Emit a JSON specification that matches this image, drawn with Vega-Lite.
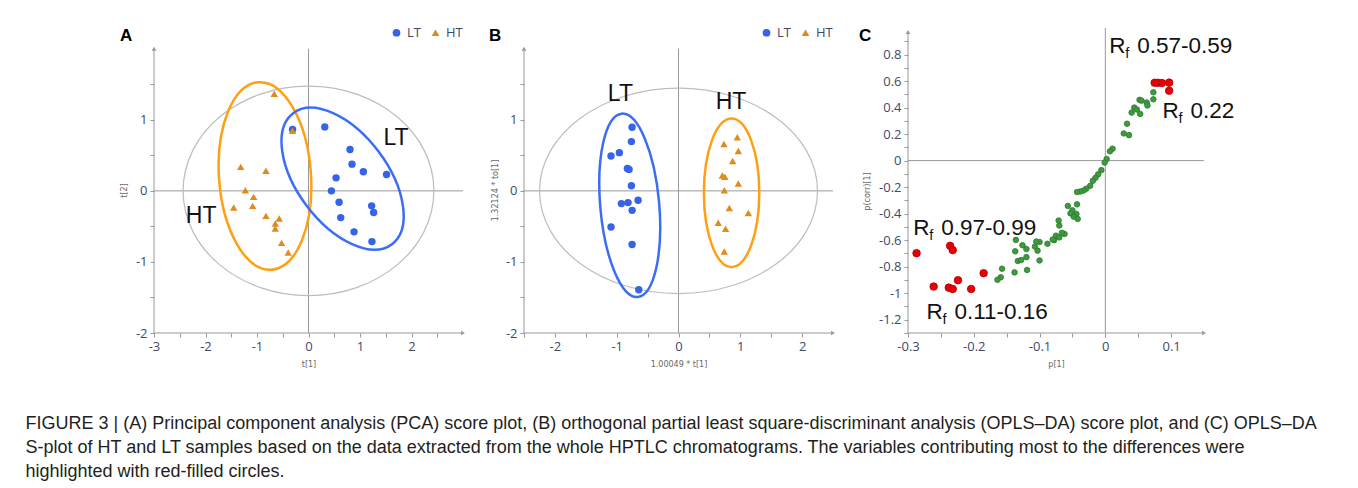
{
"$schema":"https://vega.github.io/schema/vega-lite/v6.json",
"padding":{"left":25,"top":26,"right":3,"bottom":2},
"background":"white",
"config":{"view":{"stroke":null},
 "axis":{"domain":false,"grid":false,"tickSize":4,"tickColor":"#999","labelFont":"Open Sans","labelFontSize":13,"labelColor":"#3e4a66","labelPadding":3,"titleFont":"DejaVu Sans","titleFontSize":8,"titleFontWeight":"normal","titleColor":"#666","labelFlush":false,"labelOverlap":false}},
"title":{"text":["FIGURE 3 | (A) Principal component analysis (PCA) score plot, (B) orthogonal partial least square-discriminant analysis (OPLS–DA) score plot, and (C) OPLS–DA","S-plot of HT and LT samples based on the data extracted from the whole HPTLC chromatograms. The variables contributing most to the differences were","highlighted with red-filled circles."],
   "orient":"bottom","anchor":"start","dx":-94.5,"offset":47,"font":"Liberation Sans","fontSize":18,"fontWeight":"normal","color":"#231f20","lineHeight":24},
"datasets":{
 "A_pts":[
  {"x":-0.31,"y":0.864,"g":"LT"},{"x":0.316,"y":0.90,"g":"LT"},{"x":0.806,"y":0.582,"g":"LT"},{"x":0.845,"y":0.376,"g":"LT"},{"x":1.065,"y":0.268,"g":"LT"},{"x":1.516,"y":0.23,"g":"LT"},{"x":0.535,"y":0.183,"g":"LT"},{"x":0.445,"y":0.0,"g":"LT"},{"x":0.594,"y":-0.16,"g":"LT"},{"x":1.226,"y":-0.211,"g":"LT"},{"x":1.265,"y":-0.305,"g":"LT"},{"x":0.626,"y":-0.376,"g":"LT"},{"x":0.884,"y":-0.577,"g":"LT"},{"x":1.232,"y":-0.714,"g":"LT"},
  {"x":-0.665,"y":1.367,"g":"HT"},{"x":-0.31,"y":0.845,"g":"HT"},{"x":-1.316,"y":0.338,"g":"HT"},{"x":-0.826,"y":0.282,"g":"HT"},{"x":-1.226,"y":0.009,"g":"HT"},{"x":-1.065,"y":-0.085,"g":"HT"},{"x":-1.452,"y":-0.235,"g":"HT"},{"x":-1.084,"y":-0.211,"g":"HT"},{"x":-0.826,"y":-0.352,"g":"HT"},{"x":-0.568,"y":-0.39,"g":"HT"},{"x":-0.645,"y":-0.46,"g":"HT"},{"x":-0.645,"y":-0.53,"g":"HT"},{"x":-0.523,"y":-0.732,"g":"HT"},{"x":-0.394,"y":-0.868,"g":"HT"}],
 "A_lines":[{"x":-3,"y":-2,"x2":3,"y2":-2},{"x":-3,"y":-2,"x2":-3,"y2":2},{"x":0,"y":-2,"x2":0,"y2":2},{"x":-3,"y":0,"x2":3,"y2":0}],
 "A_arrows":[{"x":-3,"y":2,"dir":"up"},{"x":3,"y":-2,"dir":"right"}],
 "A_ell":[{"x":0,"y":0,"e":"grey"},{"x":-0.845,"y":0.21,"e":"HT"},{"x":0.662,"y":0.172,"e":"LT"}],
 "A_text":[{"x":1.70,"y":0.737,"t":"LT"},{"x":-2.084,"y":-0.357,"t":"HT"}],
 "B_pts":[
  {"x":-0.751,"y":0.896,"g":"LT"},{"x":-0.762,"y":0.693,"g":"LT"},{"x":-1.092,"y":0.491,"g":"LT"},{"x":-0.957,"y":0.538,"g":"LT"},{"x":-0.827,"y":0.316,"g":"LT"},{"x":-0.8,"y":0.302,"g":"LT"},{"x":-0.762,"y":0.071,"g":"LT"},{"x":-0.924,"y":-0.179,"g":"LT"},{"x":-0.816,"y":-0.165,"g":"LT"},{"x":-0.654,"y":-0.132,"g":"LT"},{"x":-0.751,"y":-0.274,"g":"LT"},{"x":-1.092,"y":-0.509,"g":"LT"},{"x":-0.751,"y":-0.755,"g":"LT"},{"x":-0.643,"y":-1.392,"g":"LT"},
  {"x":0.951,"y":0.755,"g":"HT"},{"x":0.735,"y":0.66,"g":"HT"},{"x":0.968,"y":0.561,"g":"HT"},{"x":0.876,"y":0.42,"g":"HT"},{"x":0.708,"y":0.217,"g":"HT"},{"x":0.751,"y":0.198,"g":"HT"},{"x":0.968,"y":0.104,"g":"HT"},{"x":0.741,"y":0.009,"g":"HT"},{"x":0.822,"y":-0.241,"g":"HT"},{"x":1.13,"y":-0.311,"g":"HT"},{"x":0.643,"y":-0.448,"g":"HT"},{"x":0.762,"y":-0.533,"g":"HT"},{"x":0.741,"y":-0.854,"g":"HT"}],
 "B_lines":[{"x":-2.5,"y":-2,"x2":2.5,"y2":-2},{"x":-2.5,"y":-2,"x2":-2.5,"y2":2},{"x":0,"y":-2,"x2":0,"y2":2},{"x":-2.5,"y":0,"x2":2.5,"y2":0}],
 "B_arrows":[{"x":-2.5,"y":2,"dir":"up"},{"x":2.5,"y":-2,"dir":"right"}],
 "B_ell":[{"x":0,"y":0,"e":"grey"},{"x":-0.789,"y":-0.203,"e":"LT"},{"x":0.859,"y":-0.028,"e":"HT"}],
 "B_text":[{"x":-0.94,"y":1.368,"t":"LT"},{"x":0.849,"y":1.245,"t":"HT"}],
 "C_green":[
  {"x":0.073,"y":0.515},{"x":0.073,"y":0.462},{"x":0.052,"y":0.458},{"x":0.055,"y":0.452},{"x":0.063,"y":0.438},{"x":0.064,"y":0.415},{"x":0.044,"y":0.400},{"x":0.048,"y":0.385},{"x":0.040,"y":0.362},{"x":0.053,"y":0.352},{"x":0.033,"y":0.278},{"x":0.028,"y":0.205},{"x":0.036,"y":0.192},{"x":0.011,"y":0.090},{"x":0.007,"y":0.070},{"x":0.002,"y":0.012},{"x":-0.001,"y":-0.015},{"x":-0.006,"y":-0.072},{"x":-0.011,"y":-0.104},{"x":-0.015,"y":-0.130},{"x":-0.019,"y":-0.152},{"x":-0.023,"y":-0.190},{"x":-0.029,"y":-0.212},{"x":-0.033,"y":-0.226},{"x":-0.038,"y":-0.233},{"x":-0.043,"y":-0.237},{"x":-0.043,"y":-0.330},{"x":-0.057,"y":-0.342},{"x":-0.050,"y":-0.375},{"x":-0.044,"y":-0.403},{"x":-0.053,"y":-0.398},{"x":-0.048,"y":-0.423},{"x":-0.042,"y":-0.440},{"x":-0.071,"y":-0.452},{"x":-0.070,"y":-0.490},{"x":-0.075,"y":-0.566},{"x":-0.070,"y":-0.579},{"x":-0.062,"y":-0.553},{"x":-0.066,"y":-0.545},{"x":-0.078,"y":-0.600},{"x":-0.080,"y":-0.595},{"x":-0.088,"y":-0.627},{"x":-0.100,"y":-0.614},{"x":-0.105,"y":-0.610},{"x":-0.107,"y":-0.648},{"x":-0.103,"y":-0.679},{"x":-0.100,"y":-0.753},{"x":-0.120,"y":-0.667},{"x":-0.126,"y":-0.638},{"x":-0.136,"y":-0.598},{"x":-0.137,"y":-0.684},{"x":-0.133,"y":-0.757},{"x":-0.128,"y":-0.750},{"x":-0.120,"y":-0.728},{"x":-0.119,"y":-0.825},{"x":-0.138,"y":-0.843},{"x":-0.157,"y":-0.815},{"x":-0.159,"y":-0.880},{"x":-0.164,"y":-0.899}],
 "C_red":[
  {"x":-0.287,"y":-0.698},{"x":-0.261,"y":-0.950},{"x":-0.236,"y":-0.643},{"x":-0.232,"y":-0.675},{"x":-0.238,"y":-0.958},{"x":-0.232,"y":-0.968},{"x":-0.224,"y":-0.902},{"x":-0.204,"y":-0.968},{"x":-0.185,"y":-0.849},{"x":0.075,"y":0.587},{"x":0.080,"y":0.587},{"x":0.086,"y":0.585},{"x":0.097,"y":0.588},{"x":0.097,"y":0.527}],
 "C_lines":[{"x":-0.3,"y":-1.3,"x2":0.15,"y2":-1.3},{"x":-0.3,"y":-1.3,"x2":-0.3,"y2":0.97},{"x":0,"y":-1.3,"x2":0,"y2":1.0},{"x":-0.3,"y":0,"x2":0.15,"y2":0}],
 "C_arrows":[{"x":-0.3,"y":0.97,"dir":"up"},{"x":0.15,"y":-1.3,"dir":"right"}],
 "C_labels":[{"x":0.006,"y":0.815,"num":"0.57-0.59"},{"x":0.087,"y":0.319,"num":"0.22"},{"x":-0.292,"y":-0.564,"num":"0.97-0.99"},{"x":-0.272,"y":-1.193,"num":"0.11-0.16"}]
},
"hconcat":[
  {"width":309,"height":307,
   "title":{"text":"A","anchor":"start","frame":"group","dx":-34,"offset":-32,"baseline":"alphabetic","fontSize":17,"fontWeight":"bold","font":"Liberation Sans","color":"#000"},
   "encoding":{
    "x":{"field":"x","type":"quantitative","scale":{"domain":[-3,3],"nice":false,"zero":false},"axis":{"values":[-3,-2.5,-2,-1.5,-1,-0.5,0,0.5,1,1.5,2,2.5],"labelExpr":"datum.value % 1 == 0 ? toString(datum.value) : ''","title":"t[1]","titlePadding":7}},
    "y":{"field":"y","type":"quantitative","scale":{"domain":[-2,2.32],"nice":false,"zero":false},"axis":{"values":[-2,-1.5,-1,-0.5,0,0.5,1,1.5],"labelExpr":"datum.value % 1 == 0 ? toString(datum.value) : ''","title":"t[2]","titlePadding":7,"titleY":164}}
   },
   "layer":[
    {"data":{"name":"A_lines"},"mark":{"type":"rule","color":"#999","strokeWidth":1},"encoding":{"x2":{"field":"x2"},"y2":{"field":"y2"}}},
    {"data":{"name":"A_arrows"},"transform":[{"filter":"datum.dir == 'up'"}],"mark":{"type":"point","shape":"triangle-up","size":22,"filled":true,"color":"#999","opacity":1}},
    {"data":{"name":"A_arrows"},"transform":[{"filter":"datum.dir == 'right'"}],"mark":{"type":"point","shape":"triangle-right","size":22,"filled":true,"color":"#999","opacity":1}},
    {"data":{"name":"A_ell"},"transform":[{"filter":"datum.e == 'grey'"}],"mark":{"type":"point","shape":"M-1,0A1,0.835 0 1,1 1,0A1,0.835 0 1,1 -1,0Z","size":62901,"filled":false,"color":"#bdbdbd","strokeWidth":1.2,"opacity":1}},
    {"data":{"name":"A_ell"},"transform":[{"filter":"datum.e == 'HT'"}],"mark":{"type":"point","shape":"M-1,0A1,2.043 0 1,1 1,0A1,2.043 0 1,1 -1,0Z","size":8464,"angle":-4,"filled":false,"color":"#ffa014","strokeWidth":2.5,"opacity":1}},
    {"data":{"name":"A_ell"},"transform":[{"filter":"datum.e == 'LT'"}],"mark":{"type":"point","shape":"M-1,0A1,0.549 0 1,1 1,0A1,0.549 0 1,1 -1,0Z","size":26896,"angle":53,"filled":false,"color":"#3c6ef5","strokeWidth":2.5,"opacity":1}},
    {"data":{"name":"A_pts"},"mark":{"type":"point","filled":true,"opacity":1,"size":55},
     "encoding":{"color":{"field":"g","type":"nominal","scale":{"domain":["LT","HT"],"range":["#3563e9","#de8c1e"]},"legend":{"title":null,"orient":"top-right","direction":"horizontal","offset":0,"padding":0,"labelFont":"Open Sans","labelFontSize":13,"labelColor":"#3e4a66","symbolSize":60,"columnPadding":8,"labelOffset":4}},
      "shape":{"field":"g","type":"nominal","scale":{"domain":["LT","HT"],"range":["circle","triangle-up"]},"legend":{"title":null,"orient":"top-right","direction":"horizontal","offset":0,"padding":0,"labelFont":"Open Sans","labelFontSize":13,"labelColor":"#3e4a66","symbolSize":60,"columnPadding":8,"labelOffset":4}}}},
    {"data":{"name":"A_text"},"mark":{"type":"text","fontSize":23,"font":"Liberation Sans","color":"#111","align":"center","baseline":"middle"},"encoding":{"text":{"field":"t"}}}
   ]},
  {"width":309,"height":307,
   "title":{"text":"B","anchor":"start","frame":"group","dx":-35,"offset":-32,"baseline":"alphabetic","fontSize":17,"fontWeight":"bold","font":"Liberation Sans","color":"#000"},
   "encoding":{
    "x":{"field":"x","type":"quantitative","scale":{"domain":[-2.5,2.5],"nice":false,"zero":false},"axis":{"values":[-2.5,-2,-1.5,-1,-0.5,0,0.5,1,1.5,2],"labelExpr":"datum.value % 1 == 0 ? toString(datum.value) : ''","title":"1.00049 * t[1]","titlePadding":7}},
    "y":{"field":"y","type":"quantitative","scale":{"domain":[-2,2.32],"nice":false,"zero":false},"axis":{"values":[-2,-1.5,-1,-0.5,0,0.5,1,1.5],"labelExpr":"datum.value % 1 == 0 ? toString(datum.value) : ''","title":"1.32124 * to[1]","titlePadding":6,"titleY":164}}
   },
   "layer":[
    {"data":{"name":"B_lines"},"mark":{"type":"rule","color":"#999","strokeWidth":1},"encoding":{"x2":{"field":"x2"},"y2":{"field":"y2"}}},
    {"data":{"name":"B_arrows"},"transform":[{"filter":"datum.dir == 'up'"}],"mark":{"type":"point","shape":"triangle-up","size":22,"filled":true,"color":"#999","opacity":1}},
    {"data":{"name":"B_arrows"},"transform":[{"filter":"datum.dir == 'right'"}],"mark":{"type":"point","shape":"triangle-right","size":22,"filled":true,"color":"#999","opacity":1}},
    {"data":{"name":"B_ell"},"transform":[{"filter":"datum.e == 'grey'"}],"mark":{"type":"point","shape":"M-1,0A1,0.739 0 1,1 1,0A1,0.739 0 1,1 -1,0Z","size":77284,"filled":false,"color":"#bdbdbd","strokeWidth":1.2,"opacity":1}},
    {"data":{"name":"B_ell"},"transform":[{"filter":"datum.e == 'LT'"}],"mark":{"type":"point","shape":"M-1,0A1,3.119 0 1,1 1,0A1,3.119 0 1,1 -1,0Z","size":3481,"angle":-5,"filled":false,"color":"#3c6ef5","strokeWidth":2.5,"opacity":1}},
    {"data":{"name":"B_ell"},"transform":[{"filter":"datum.e == 'HT'"}],"mark":{"type":"point","shape":"M-1,0A1,2.682 0 1,1 1,0A1,2.682 0 1,1 -1,0Z","size":3069,"filled":false,"color":"#ffa014","strokeWidth":2.5,"opacity":1}},
    {"data":{"name":"B_pts"},"mark":{"type":"point","filled":true,"opacity":1,"size":55},
     "encoding":{"color":{"field":"g","type":"nominal","scale":{"domain":["LT","HT"],"range":["#3563e9","#de8c1e"]},"legend":{"title":null,"orient":"top-right","direction":"horizontal","offset":0,"padding":0,"labelFont":"Open Sans","labelFontSize":13,"labelColor":"#3e4a66","symbolSize":60,"columnPadding":8,"labelOffset":4}},
      "shape":{"field":"g","type":"nominal","scale":{"domain":["LT","HT"],"range":["circle","triangle-up"]},"legend":{"title":null,"orient":"top-right","direction":"horizontal","offset":0,"padding":0,"labelFont":"Open Sans","labelFontSize":13,"labelColor":"#3e4a66","symbolSize":60,"columnPadding":8,"labelOffset":4}}}},
    {"data":{"name":"B_text"},"mark":{"type":"text","fontSize":23,"font":"Liberation Sans","color":"#111","align":"center","baseline":"middle"},"encoding":{"text":{"field":"t"}}}
   ]},
  {"width":296,"height":307,
   "title":{"text":"C","anchor":"start","frame":"group","dx":-49,"offset":-32,"baseline":"alphabetic","fontSize":17,"fontWeight":"bold","font":"Liberation Sans","color":"#000"},
   "encoding":{
    "x":{"field":"x","type":"quantitative","scale":{"domain":[-0.3,0.15],"nice":false,"zero":false},"axis":{"values":[-0.3,-0.25,-0.2,-0.15,-0.1,-0.05,0,0.05,0.1],"labelExpr":"round(datum.value*100) % 10 == 0 ? toString(datum.value) : ''","title":"p[1]","titlePadding":7}},
    "y":{"field":"y","type":"quantitative","scale":{"domain":[-1.3,1.015],"nice":false,"zero":false},"axis":{"values":[-1.3,-1.2,-1.1,-1,-0.9,-0.8,-0.7,-0.6,-0.5,-0.4,-0.3,-0.2,-0.1,0,0.1,0.2,0.3,0.4,0.5,0.6,0.7,0.8,0.9],"labelExpr":"round(datum.value*10) % 2 == 0 ? toString(datum.value) : ''","title":"p(corr)[1]","titlePadding":7,"titleY":165}}
   },
   "layer":[
    {"data":{"name":"C_lines"},"mark":{"type":"rule","color":"#999","strokeWidth":1},"encoding":{"x2":{"field":"x2"},"y2":{"field":"y2"}}},
    {"data":{"name":"C_arrows"},"transform":[{"filter":"datum.dir == 'up'"}],"mark":{"type":"point","shape":"triangle-up","size":22,"filled":true,"color":"#999","opacity":1}},
    {"data":{"name":"C_arrows"},"transform":[{"filter":"datum.dir == 'right'"}],"mark":{"type":"point","shape":"triangle-right","size":22,"filled":true,"color":"#999","opacity":1}},
    {"data":{"name":"C_green"},"mark":{"type":"point","filled":true,"fill":"#3f9a3f","stroke":"#2c7a2e","strokeWidth":0.8,"size":31,"opacity":1}},
    {"data":{"name":"C_red"},"mark":{"type":"point","filled":true,"fill":"#e80008","stroke":"#b00000","strokeWidth":0.8,"size":57,"opacity":1}},
    {"data":{"name":"C_labels"},"mark":{"type":"text","text":"R","fontSize":22.5,"font":"Liberation Sans","color":"#111","align":"left","baseline":"alphabetic"}},
    {"data":{"name":"C_labels"},"mark":{"type":"text","text":"f","dx":16,"dy":5,"fontSize":14.5,"font":"Liberation Sans","color":"#111","align":"left","baseline":"alphabetic"}},
    {"data":{"name":"C_labels"},"mark":{"type":"text","dx":28,"fontSize":22.5,"font":"Liberation Sans","color":"#111","align":"left","baseline":"alphabetic"},"encoding":{"text":{"field":"num"}}}
   ]}
],
"spacing":23,
"resolve":{"scale":{"x":"independent","y":"independent","color":"independent","shape":"independent"},"axis":{"x":"independent","y":"independent"},"legend":{"color":"independent","shape":"independent"}}
}
